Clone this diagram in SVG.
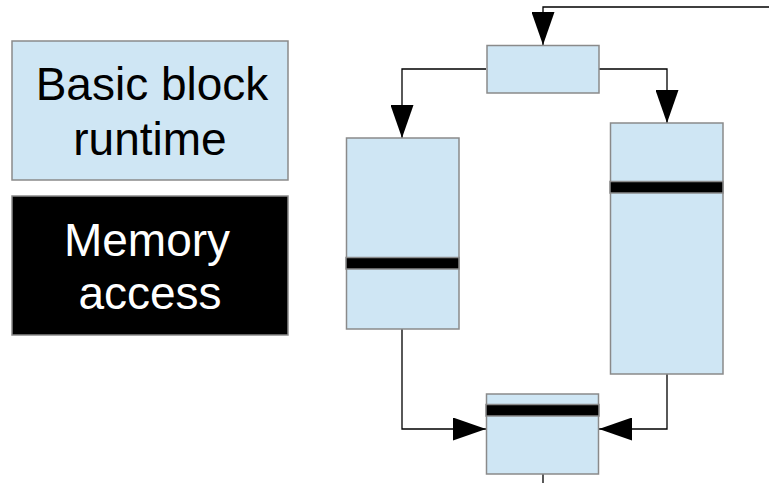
<svg xmlns="http://www.w3.org/2000/svg" width="769" height="483" viewBox="0 0 769 483">
  <style>
    .block { fill: #cfe6f4; stroke: #8a8a8a; stroke-width: 1.5; }
    .mem { fill: #000000; stroke: #8a8a8a; stroke-width: 1.5; }
    .edge { fill: none; stroke: #000000; stroke-width: 1.3; }
    .label { font-family: "Liberation Sans", Arial, sans-serif; font-size: 46px; text-anchor: middle; }
  </style>
  <defs>
    <marker id="arrow" viewBox="0 0 33 23" refX="33" refY="11.5" markerWidth="33" markerHeight="23" markerUnits="userSpaceOnUse" orient="auto">
      <path d="M0,0 L33,11.5 L0,23 Z" fill="#000000"/>
    </marker>
  </defs>
  <rect width="769" height="483" fill="#ffffff"/>

  <!-- legend -->
  <g id="legend-runtime">
    <rect class="block" x="12" y="41" width="276" height="139"/>
    <text class="label" x="152" y="100" fill="#000000">Basic block</text>
    <text class="label" x="150" y="155" fill="#000000">runtime</text>
  </g>
  <g id="legend-memory">
    <rect class="mem" x="12" y="196" width="276" height="139"/>
    <text class="label" x="147" y="256" fill="#ffffff">Memory</text>
    <text class="label" x="150" y="309" fill="#ffffff">access</text>
  </g>

  <!-- control-flow edges -->
  <g id="connectors">
    <path class="edge" d="M769,7 L543,7 L543,45" marker-end="url(#arrow)"/>
    <path class="edge" d="M486,69 L402,69 L402,138" marker-end="url(#arrow)"/>
    <path class="edge" d="M599,69 L667,69 L667,123" marker-end="url(#arrow)"/>
    <path class="edge" d="M402,329 L402,429 L486,429" marker-end="url(#arrow)"/>
    <path class="edge" d="M667,374 L667,429 L599,429" marker-end="url(#arrow)"/>
    <path class="edge" d="M543,474 L543,483"/>
  </g>

  <!-- basic blocks -->
  <g id="block-entry">
    <rect class="block" x="487" y="45.5" width="112" height="47.5"/>
  </g>
  <g id="block-left">
    <rect class="block" x="346.5" y="138" width="112.5" height="191"/>
    <rect class="mem" x="346" y="257.5" width="113" height="11.5"/>
  </g>
  <g id="block-right">
    <rect class="block" x="610.5" y="123" width="112.5" height="251"/>
    <rect class="mem" x="610" y="181.5" width="113" height="11.5"/>
  </g>
  <g id="block-join">
    <rect class="block" x="486.5" y="394" width="112" height="80"/>
    <rect class="mem" x="486" y="404.5" width="113" height="11.5"/>
  </g>
</svg>
